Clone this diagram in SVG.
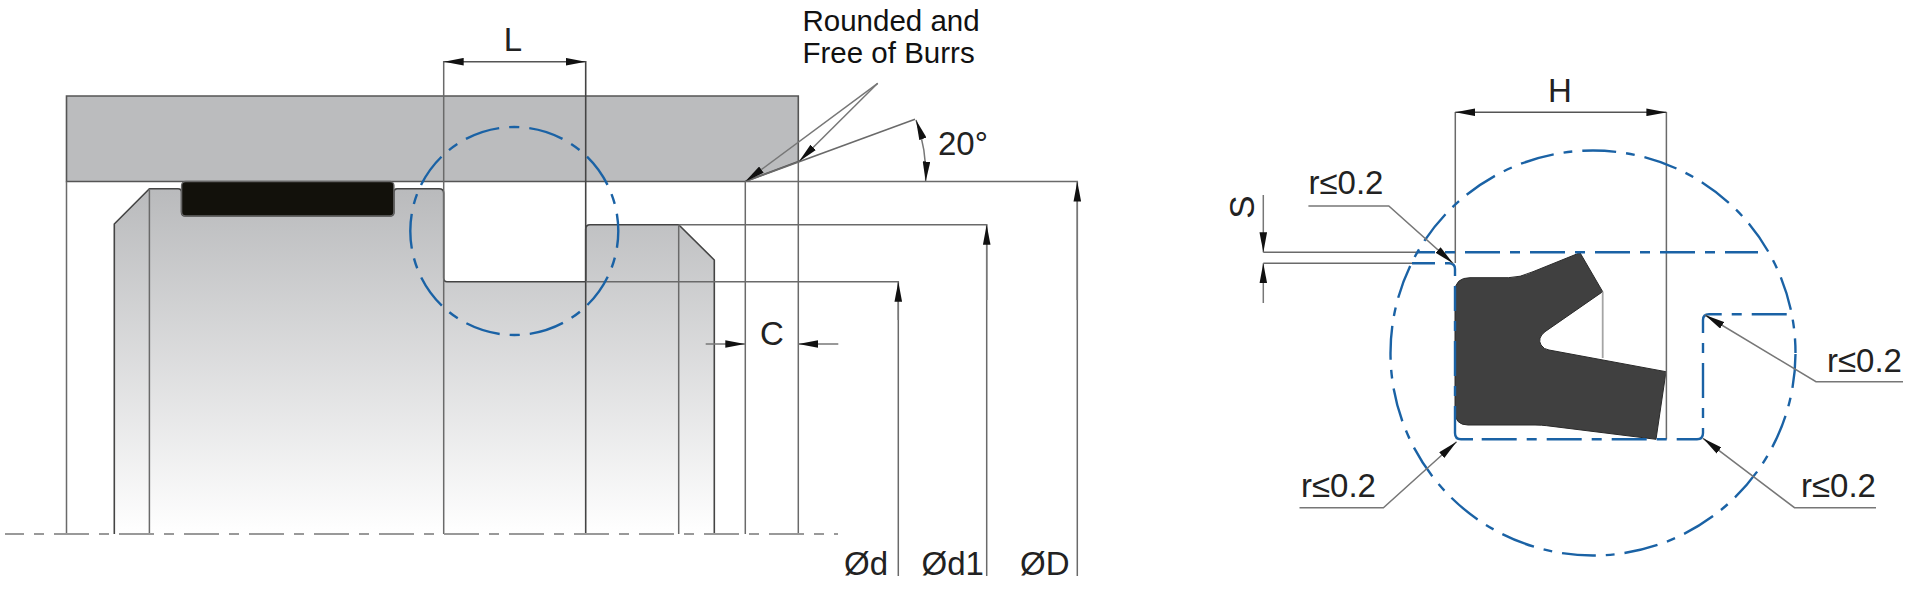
<svg xmlns="http://www.w3.org/2000/svg" width="1920" height="600" viewBox="0 0 1920 600">
<style>
text{font-family:"Liberation Sans",Arial,sans-serif;fill:#222;font-size:33px}
.note{font-size:29.5px;fill:#111}
.r{font-size:33px}
.ln{fill:none;stroke:#6a6a6a;stroke-width:1.5}
.dk{fill:none;stroke:#444;stroke-width:1.6}
.dim{fill:none;stroke:#777;stroke-width:1.5;marker-end:url(#ah)}
.both{marker-start:url(#ah)}
.blue{fill:none;stroke:#1a62a5;stroke-width:2.4;stroke-dasharray:35 10 10 10}
.solid{fill:none;stroke:#1a62a5;stroke-width:2.4}
.cl{fill:none;stroke:#999;stroke-width:2;stroke-dasharray:35 10 10 10;stroke-dashoffset:16}
</style>
<defs>
<linearGradient id="pg" gradientUnits="userSpaceOnUse" x1="0" y1="188" x2="0" y2="534"><stop offset="0" stop-color="#b9babc"/><stop offset="1" stop-color="#fff"/></linearGradient>
<marker id="ah" markerUnits="userSpaceOnUse" markerWidth="20" markerHeight="8" refX="20" refY="4" orient="auto-start-reverse"><path d="M0,0.2L20,4L0,7.8Z" fill="#111"/></marker>
</defs>
<rect width="1920" height="600" fill="#fff"/>
<g id="housing"><path d="M66.5,96H798.3V161.5L745.3,181.5H66.5Z" fill="#bbbcbe" stroke="#555" stroke-width="1.6"/></g>
<g id="piston">
<path d="M114.3,534V224L149.4,188.7H178Q181.5,188.7 181.5,192V212Q181.5,216 185,216H390Q394,216 394,212V192Q394,188.7 397,188.7H439Q443.7,188.7 443.7,193V278Q443.7,281.7 447,281.7H585.7V229Q585.7,224.7 590,224.7H678.7L714.3,260V534" fill="url(#pg)" stroke="none"/>
<path class="dk" stroke-linejoin="round" d="M114.3,534V224L149.4,188.7H178Q181.5,188.7 181.5,192V212Q181.5,216 185,216H390Q394,216 394,212V192Q394,188.7 397,188.7H439Q443.7,188.7 443.7,193V278Q443.7,281.7 447,281.7H585.7V229Q585.7,224.7 590,224.7H678.7L714.3,260V534"/>
<path class="ln" d="M149.4,188.7V534M678.7,224.7V534"/>
</g>
<g id="o-ring"><rect x="181.6" y="181.5" width="212.3" height="34.5" rx="4" fill="#12110b" stroke="#666" stroke-width="1.4"/></g>
<g id="lip-seal"><path d="M1455,291.7Q1455,277.7 1470,277.7H1508.3Q1520,277.7 1533,271.7L1580,252.7L1602.7,291.7L1545,331.7Q1537,338 1541,345Q1544,349.5 1549,350L1666,371.7L1656,439.3L1546.7,425.7Q1542,425 1535,425H1468Q1455,425 1455,411.7Z" fill="#404040" stroke="#2a2a2a" stroke-width="1"/></g>
<g id="connectors">
<path class="ln" d="M66.5,181.5V534M745.3,181.5V534M798.3,161.5V534M443.7,61V534"/>
<path class="dk" d="M585.7,61V534"/>
<path class="cl" d="M5,534H838"/>
<path class="ln" d="M745.3,181.5L915,119.3"/>
<path class="dim both" style="stroke:#555" d="M443.7,61.7H585.7"/>
<path class="dim" d="M877.7,83.3L745.3,181.5"/>
<path class="dim" d="M877.7,83.3L799,161.5"/>
<path class="dim both" d="M916,120Q927,150 925.7,181.5"/>
<path class="ln" d="M745.3,181.5H1077.3V576M678.7,224.7H986.7V576M585.7,281.7H898.3V576"/>
<path class="dim" d="M1077.3,300V181.5"/>
<path class="dim" d="M986.7,300V224.7"/>
<path class="dim" d="M898.3,320V281.7"/>
<path class="dim" d="M705.7,344H745.3"/>
<path class="dim" d="M838.3,344H798.3"/>
<circle class="blue" cx="514.3" cy="231" r="104" style="stroke-dasharray:35 10 10.35 10;stroke-dashoffset:18.1"/>
<path class="ln" d="M1455.3,112V263M1666.4,112V439.3"/>
<path d="M1602.7,291.7V358" fill="none" stroke="#a5a5a5" stroke-width="1.8"/>
<path class="dim both" style="stroke:#555" d="M1455.3,112.3H1666.4"/>
<path class="ln" d="M1263.3,252.3H1417M1263.3,263.3H1412"/>
<path class="dim" d="M1263.3,195V252.3"/>
<path class="dim" d="M1263.3,303V263.3"/>
<path class="blue" style="stroke-dashoffset:17" d="M1417,252.3H1758"/>
<path class="solid" d="M1412,263.3H1435M1445,263.3H1449Q1455,263.3 1455,269V276"/>
<path class="blue" style="stroke-dashoffset:10" d="M1455,286V420"/>
<path class="solid" d="M1455,420V433Q1455,439.3 1461,439.3H1473"/>
<path class="blue" d="M1481.7,439.3H1697Q1703,439.3 1703,433V320Q1703,314.3 1709,314.3H1791.4"/>
<circle class="blue" cx="1593" cy="353" r="202.5" style="stroke-dasharray:34 10 8.8 10;stroke-dashoffset:61.7"/>
<path class="dim" d="M1308.4,206H1388.8L1453,263.3"/>
<path class="dim" d="M1299.5,507.7H1383.4L1456.6,441.7"/>
<path class="dim" d="M1876,507.7H1794.5L1703,438.3"/>
<path class="dim" d="M1903,381.7H1816L1705,315"/>
</g>
<g id="labels">
<text x="513" y="50.7" text-anchor="middle">L</text>
<text class="note" x="802.5" y="30.7">Rounded and</text>
<text class="note" x="802.5" y="63.3">Free of Burrs</text>
<text x="938" y="155">20°</text>
<text x="772" y="345" text-anchor="middle">C</text>
<text x="844" y="575">Ød</text>
<text x="921.5" y="575">Ød1</text>
<text x="1020" y="575">ØD</text>
<text x="1560" y="102.3" text-anchor="middle">H</text>
<text style="font-size:35px" transform="translate(1254,207) rotate(-90)" text-anchor="middle">S</text>
<text class="r" x="1308.5" y="194">r≤0.2</text>
<text class="r" x="1301" y="496.7">r≤0.2</text>
<text class="r" x="1801" y="496.7">r≤0.2</text>
<text class="r" x="1827" y="372.3">r≤0.2</text>
</g>
</svg>
